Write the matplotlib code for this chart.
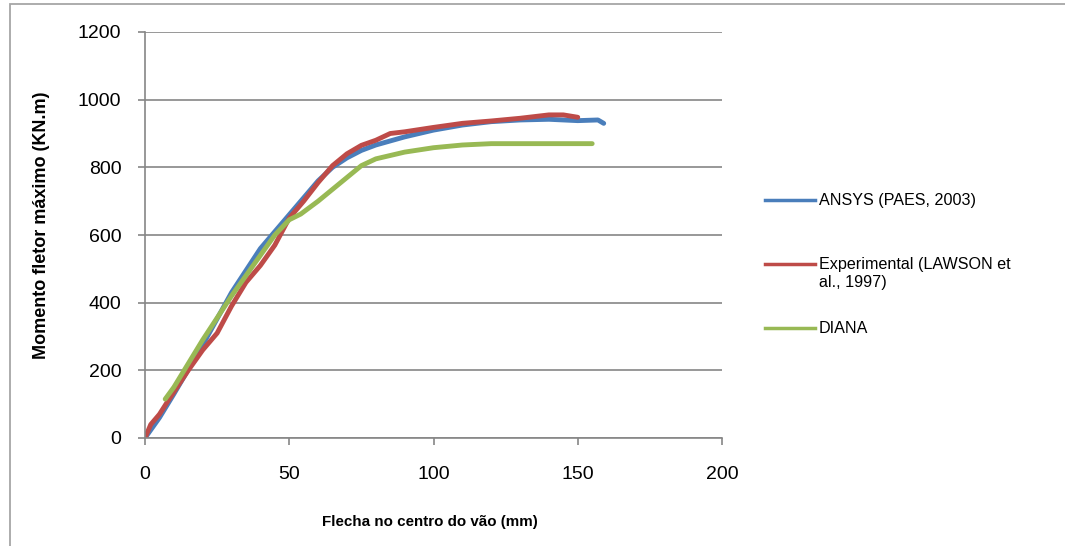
import matplotlib.pyplot as plt
from matplotlib.lines import Line2D

plt.rcParams["font.family"] = ["Liberation Sans", "DejaVu Sans"]

# ANSYS (PAES, 2003)
ansys_x = [0, 5, 10, 20, 30, 40, 45, 50, 55, 60, 65, 70, 75, 80, 90, 100, 110, 120, 130, 140, 150, 157, 159]
ansys_y = [0, 60, 130, 275, 430, 560, 610, 660, 710, 760, 800, 828, 850, 866, 890, 910, 925, 935, 940, 942, 938, 940, 930]

# Experimental (LAWSON et al., 1997)
exp_x = [0, 2, 5, 8, 15, 20, 25, 30, 35, 40, 45, 50, 55, 60, 65, 70, 75, 80, 85, 90, 100, 110, 120, 130, 140, 145, 150]
exp_y = [0, 40, 70, 110, 200, 260, 310, 390, 460, 510, 570, 650, 700, 755, 805, 840, 865, 880, 900, 905, 918, 930, 937, 945, 955, 955, 948]

# DIANA
diana_x = [7, 10, 20, 30, 40, 45, 50, 54, 60, 65, 70, 75, 80, 90, 100, 110, 120, 155]
diana_y = [115, 150, 290, 420, 540, 600, 645, 662, 700, 735, 770, 805, 825, 845, 858, 866, 870, 870]

labels = ["ANSYS (PAES, 2003)", "Experimental (LAWSON et\nal., 1997)", "DIANA"]
colors = ["#4a7ebb", "#be4b48", "#98b954"]

W, H = 1065, 546
fig = plt.figure(figsize=(W / 100, H / 100), dpi=100)
ax = fig.add_axes([145 / W, 1 - 438 / H, (722 - 145) / W, (438 - 32) / H])

ax.plot(ansys_x, ansys_y, color=colors[0], lw=3.5, solid_capstyle="round")
ax.plot(exp_x, exp_y, color=colors[1], lw=3.5, solid_capstyle="round")
ax.plot(diana_x, diana_y, color=colors[2], lw=3.5, solid_capstyle="round")

ax.set_xlim(0, 200)
ax.set_ylim(0, 1200)
ax.set_xticks(range(0, 201, 50))
ax.set_yticks(range(0, 1201, 200))
ax.grid(axis="y", color="#868686", lw=1.2)
ax.set_axisbelow(True)
for side in ["top", "right"]:
    ax.spines[side].set_visible(False)
for side in ["left", "bottom"]:
    ax.spines[side].set_color("#868686")
    ax.spines[side].set_linewidth(1.2)
ax.tick_params(colors="#868686", labelcolor="black", labelsize=14, length=5, width=1.2)
ax.tick_params(axis="x", pad=15)
ax.tick_params(axis="y", pad=12)

fig.text(430 / W, 1 - 522 / H, "Flecha no centro do vão (mm)", fontsize=10.9,
         fontweight="bold", ha="center", va="center")
fig.text(42 / W, 1 - 225 / H, "Momento fletor máximo (KN.m)", fontsize=13,
         fontweight="bold", ha="center", va="center", rotation=90)

# legend, placed by hand like the spreadsheet one
legend_y = [200, 264, 328]
for color, label, y in zip(colors, labels, legend_y):
    fig.add_artist(Line2D([765 / W, 815 / W], [1 - y / H] * 2, color=color, lw=2.5,
                          transform=fig.transFigure))
    fig.text(819 / W, 1 - (y - 7) / H, label, fontsize=11.6, ha="left", va="top",
             linespacing=1.25)

# light outer frame
fig.add_artist(plt.Rectangle((10 / W, -0.05), 1.1, 1 - 4 / H + 0.05, transform=fig.transFigure,
                             fill=False, edgecolor="#a6a6a6", lw=1.3))

fig.savefig("out.png", dpi=100)
